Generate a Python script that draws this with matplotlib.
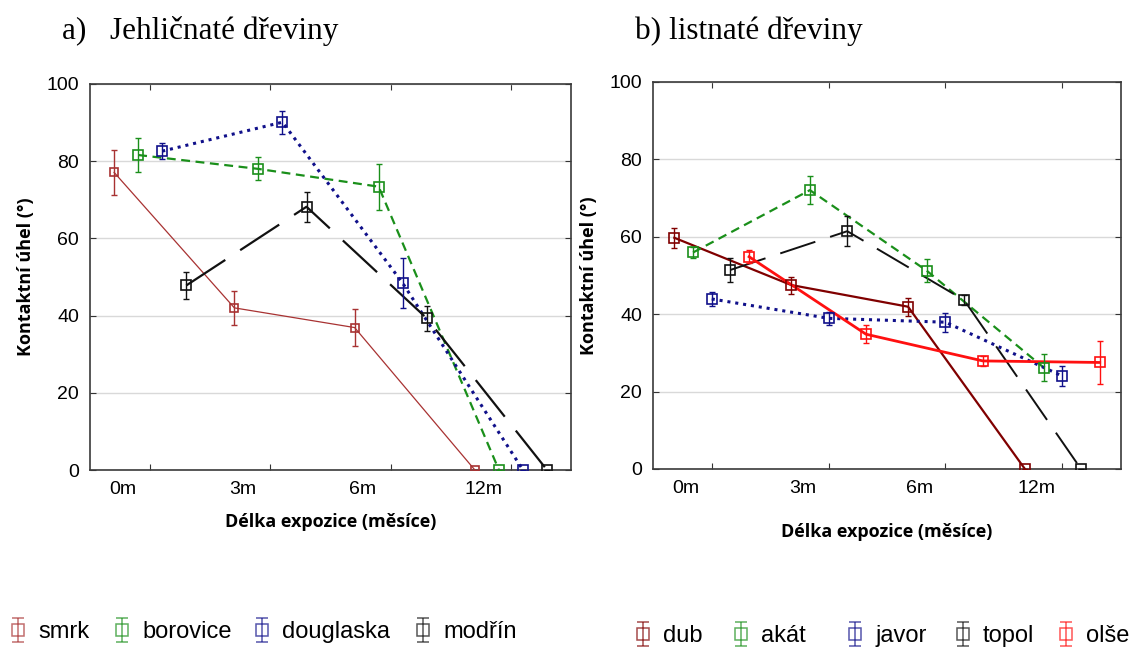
import numpy as np
import matplotlib
matplotlib.use('Agg')
import matplotlib.pyplot as plt

# Categories (exposure length)
cats = ['0m', '3m', '6m', '12m']

# a) conifers - contact angle means and error bars
smrk = [77.1, 42.0, 36.9, 0]
smrk_err = [5.8, 4.4, 4.9, 0]
borovice = [81.6, 78.0, 73.4, 0]
borovice_err = [4.3, 3.0, 6.0, 0]
douglaska = [82.6, 90.1, 48.4, 0]
douglaska_err = [2.0, 3.0, 6.5, 0]
modrin = [47.8, 68.2, 39.3, 0]
modrin_err = [3.5, 3.9, 3.3, 0]

# b) broadleaves
dub = [59.7, 47.5, 41.9, 0]
dub_err = [2.6, 2.2, 2.3, 0]
akat = [55.9, 72.0, 51.2, 26.2]
akat_err = [1.5, 3.6, 2.9, 3.5]
javor = [43.9, 38.9, 37.9, 24.0]
javor_err = [1.9, 1.7, 2.5, 2.7]
topol = [51.4, 61.4, 43.6, 0]
topol_err = [3.2, 3.9, 1.3, 0]
olse = [54.8, 34.8, 27.9, 27.5]
olse_err = [1.7, 2.4, 1.3, 5.6]

fig = plt.figure(figsize=(11.34, 6.49), dpi=100)
ax1 = fig.add_axes([0.0794, 0.2758, 0.4242, 0.5948])
ax2 = fig.add_axes([0.5761, 0.2774, 0.4122, 0.5967])

x = np.arange(len(cats))

left_series = [
    ('smrk', smrk, smrk_err, -0.3, '#a83232', '-', 0.9, 5.5),
    ('borovice', borovice, borovice_err, -0.1, '#1a8f1a', (0, (4, 2.5)), 1.6, 7),
    ('douglaska', douglaska, douglaska_err, 0.1, '#10108a', (0, (1, 1.6)), 2.2, 7),
    ('modřín', modrin, modrin_err, 0.3, '#111111', (0, (21, 8)), 1.6, 7),
]
right_series = [
    ('dub', dub, dub_err, -0.32, '#800000', '-', 1.6, 7),
    ('akát', akat, akat_err, -0.16, '#1a8f1a', (0, (4, 2.5)), 1.6, 7),
    ('javor', javor, javor_err, 0.0, '#10108a', (0, (1, 1.6)), 2.2, 7),
    ('topol', topol, topol_err, 0.16, '#111111', (0, (19, 8)), 1.4, 7),
    ('olše', olse, olse_err, 0.32, '#ff1010', '-', 2.0, 7),
]


def draw(ax, series, label_shift):
    handles = []
    for name, vals, err, off, col, ls, lw, ms in series:
        ax.plot(x + off, vals, color=col, linestyle=ls, linewidth=lw, zorder=3)
        ax.errorbar(x + off, vals, yerr=err, fmt='none', ecolor=col,
                    elinewidth=1.0, capsize=2.5, capthick=1.0, zorder=4)
        ax.plot(x + off, vals, linestyle='none', marker='s', ms=ms,
                mfc='none', mec=col, mew=1.2, zorder=5)
        # legend glyph: square with error bar, no line
        h = ax.errorbar([np.nan], [np.nan], yerr=[1], fmt='s', ms=8,
                        mfc='none', mec=col, ecolor=col, mew=1.1,
                        elinewidth=1.1, capsize=4, capthick=1.1,
                        alpha=0.7, label=name)
        handles.append(h)
    ax.set_xlim(-0.5, 3.5)
    ax.set_ylim(0, 100)
    ax.set_yticks([0, 20, 40, 60, 80, 100])
    ax.set_xticks(x)
    ax.set_xticklabels([])
    ax.set_xticks(x - label_shift, labels=cats, minor=True)
    ax.tick_params(axis='x', which='minor', length=0, pad=8, labelsize=14)
    ax.tick_params(axis='both', which='major', direction='in', length=4,
                   top=True, right=True, color='#333333', labelsize=14, pad=8)
    for lab in ax.get_xticklabels(minor=True) + ax.get_yticklabels():
        lab.set_fontfamily('Liberation Sans')
    ax.yaxis.grid(True, color='#d9d9d9', linewidth=1.0)
    ax.set_axisbelow(True)
    for sp in ax.spines.values():
        sp.set_color('#3a3a3a')
        sp.set_linewidth(1.2)
    ax.set_ylabel('Kontaktní úhel (°)', fontsize=13, fontweight='bold',
                  fontfamily='Open Sans', labelpad=8)
    return handles


h1 = draw(ax1, left_series, 0.23)
h2 = draw(ax2, right_series, 0.22)

ax1.set_xlabel('Délka expozice (měsíce)', fontsize=13, fontweight='bold',
               fontfamily='Open Sans', labelpad=11)
ax2.set_xlabel('Délka expozice (měsíce)', fontsize=13, fontweight='bold',
               fontfamily='Open Sans', labelpad=19)

fig.text(62 / 1134, 1 - 39 / 649, 'a)   Jehličnaté dřeviny', fontsize=22.5,
         fontfamily='Liberation Serif', va='baseline')
fig.text(635 / 1134, 1 - 39 / 649, 'b) listnaté dřeviny', fontsize=22.5,
         fontfamily='Liberation Serif', va='baseline')

# legend items placed one by one (marker centre positions in pixels)
leg_font = {'family': 'Liberation Sans', 'size': 17}
left_leg_x = [18, 122, 262, 423]
right_leg_x = [643, 741, 855, 963, 1066]


def put_legend(handle, xc, yc):
    fig.legend(handles=[handle], loc='center left',
               bbox_to_anchor=((xc - 10.6) / 1134, 1 - yc / 649),
               frameon=False, prop=leg_font, handlelength=0.9,
               handletextpad=0.4, borderaxespad=0, borderpad=0)


for h, xc in zip(h1, left_leg_x):
    put_legend(h, xc, 632)
for h, xc in zip(h2, right_leg_x):
    put_legend(h, xc, 636)

fig.savefig('out.png', dpi=100, facecolor='white')
